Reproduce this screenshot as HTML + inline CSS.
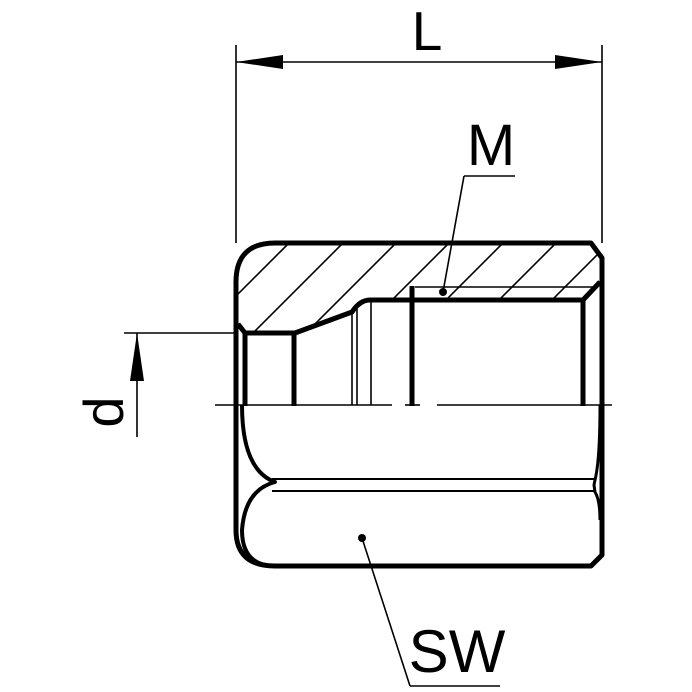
<!DOCTYPE html>
<html><head><style>html,body{margin:0;padding:0;background:#fff}svg{display:block}</style></head>
<body>
<svg width="692" height="692" viewBox="0 0 692 692" xmlns="http://www.w3.org/2000/svg" font-family="Liberation Sans, sans-serif">
<defs>
<clipPath id="hc"><path d="M245,333 L238,325 L238,282 Q238,244 276,244 L591,244 L601,258 L601,282 L583,300 L370,300 Q362,300 356,309 L352,312 L295,333 Z"/></clipPath>
</defs>
<!-- hatch -->
<g clip-path="url(#hc)" stroke="#000" stroke-width="1.6">
<line x1="288" y1="244" x2="188" y2="344"/>
<line x1="342" y1="244" x2="242" y2="344"/>
<line x1="395" y1="244" x2="295" y2="344"/>
<line x1="448" y1="244" x2="348" y2="344"/>
<line x1="502" y1="244" x2="402" y2="344"/>
<line x1="555" y1="244" x2="455" y2="344"/>
<line x1="608" y1="244" x2="508" y2="344"/>
<line x1="661" y1="244" x2="561" y2="344"/>
<line x1="235" y1="244" x2="135" y2="344"/>
</g>
<g fill="none" stroke="#000" stroke-linejoin="round">
<!-- outer -->
<path d="M236,530 L236,282 Q236,243 275,243 L591,243 L602,258 L602,555 L591,566 L275,566 Q236,566 236,530" stroke-width="5"/>
<!-- bore -->
<path d="M238,324 L245,333 L295,333 L352,312 Q360,300 370,300 L583,300 L600,282" stroke-width="5"/>
<line x1="415" y1="287" x2="598" y2="287" stroke-width="1.6"/>
<g stroke-width="5">
<line x1="245" y1="333" x2="245" y2="406"/>
<line x1="294" y1="333" x2="294" y2="406"/>
<line x1="412" y1="286" x2="412" y2="406"/>
<line x1="583" y1="300" x2="583" y2="406"/>
</g>
<g stroke-width="1.6">
<line x1="352" y1="312" x2="352" y2="405"/>
<line x1="357" y1="309" x2="357" y2="405"/>
<line x1="371" y1="300" x2="371" y2="405"/>
<line x1="215" y1="405" x2="392" y2="405"/>
<line x1="405" y1="405" x2="420" y2="405"/>
<line x1="437" y1="405" x2="612" y2="405"/>
</g>
<!-- lower hex -->
<path d="M242,405 Q242,470 275,482 Q245,490 242,530 Q242,566 275,566" stroke-width="4"/>
<path d="M600,405 Q600,460 595,480 L594,485 L595,492 Q600,500 600,520" stroke-width="3"/>
<line x1="272" y1="479" x2="594" y2="479" stroke-width="2"/>
<line x1="272" y1="491" x2="594" y2="491" stroke-width="2"/>
<!-- dims -->
<g stroke-width="1.6">
<line x1="236" y1="45" x2="236" y2="243"/>
<line x1="602" y1="45" x2="602" y2="243"/>
<line x1="236" y1="62" x2="602" y2="62"/>
<line x1="124" y1="333" x2="236" y2="333"/>
<line x1="137" y1="333" x2="137" y2="437"/>
<polyline points="464,176 515,176"/>
<line x1="464" y1="176" x2="443" y2="292"/>
<polyline points="410,686 500,686"/>
<line x1="410" y1="686" x2="362" y2="538"/>
</g>
</g>
<g fill="#000">
<polygon points="236,62 283,55 283,69"/>
<polygon points="602,62 555,55 555,69"/>
<polygon points="137,333 130,381 144,381"/>
<circle cx="443" cy="292" r="4"/>
<circle cx="362" cy="538" r="4"/>
</g>
<text x="427" y="50" font-size="55" text-anchor="middle">L</text>
<text x="491" y="165" font-size="58" text-anchor="middle">M</text>
<text x="457" y="672" font-size="60" text-anchor="middle">SW</text>
<text transform="translate(123,412) rotate(-90)" font-size="56" text-anchor="middle">d</text>
</svg>
</body></html>
